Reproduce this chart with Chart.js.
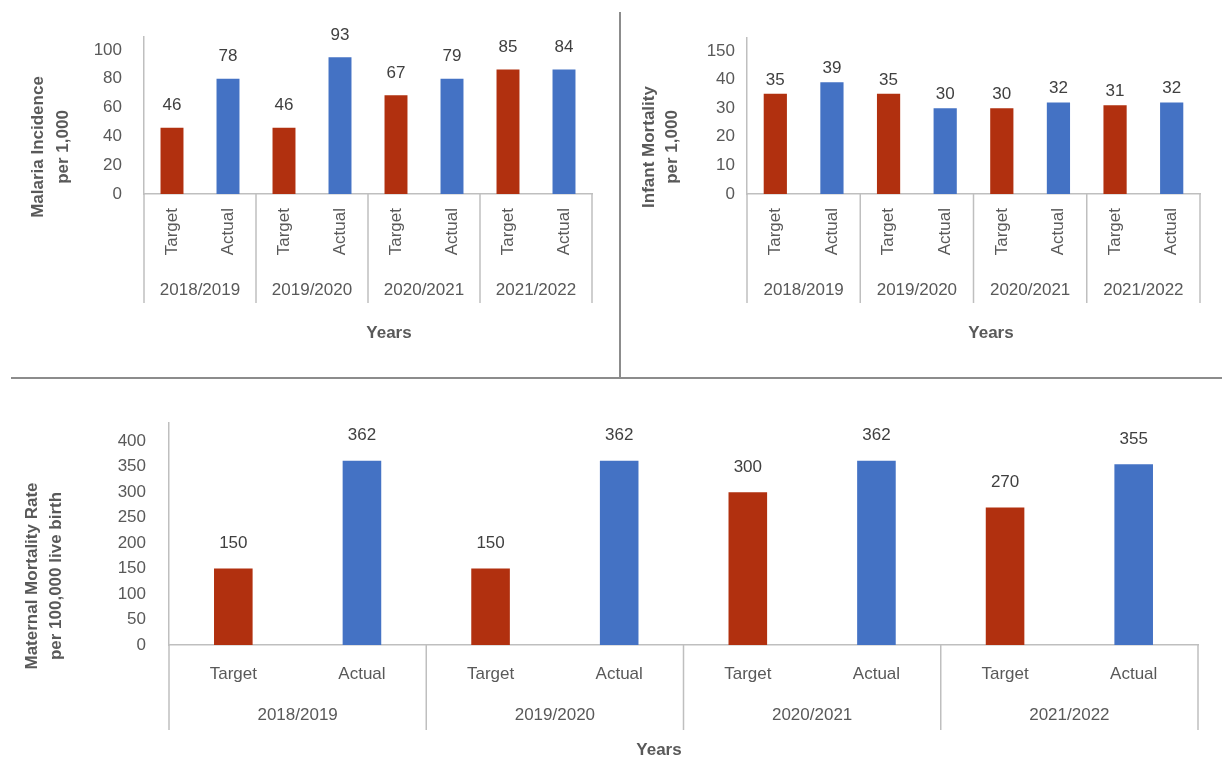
<!DOCTYPE html>
<html><head><meta charset="utf-8">
<script src="https://cdn.jsdelivr.net/npm/chart.js@4.4.1/dist/chart.umd.min.js"></script>
<style>
html,body{margin:0;padding:0;background:#fff;width:1222px;height:761px;overflow:hidden;}
.box{position:absolute;}
.hline{position:absolute;left:11px;top:377px;width:1211px;height:2px;background:#8c8c8c;}
.vline{position:absolute;left:619px;top:12px;width:2px;height:366px;background:#8c8c8c;}
</style></head><body>
<div class="box" style="left:0;top:0;width:620px;height:378px"><canvas id="c1" width="620" height="378"></canvas></div>
<div class="box" style="left:620px;top:0;width:602px;height:378px"><canvas id="c2" width="602" height="378"></canvas></div>
<div class="box" style="left:0;top:380px;width:1222px;height:381px"><canvas id="c3" width="1222" height="381"></canvas></div>
<div class="hline"></div>
<div class="vline"></div>
<script>
// ---- data ----
const years = ["2018/2019", "2019/2020", "2020/2021", "2021/2022"];
const barKinds = ["Target", "Actual"];

const malariaTarget = [46, 46, 68.5, 86.5];
const malariaActual = [80, 95, 80, 86.5];
const malariaTargetText = ["46", "46", "67", "85"];
const malariaActualText = ["78", "93", "79", "84"];

const infantTarget = [35, 35, 30, 31];
const infantActual = [39, 30, 32, 32];
const infantTickLabels = ["0", "10", "20", "30", "40", "150"];

const maternalTarget = [150, 150, 300, 270];
const maternalActual = [362, 362, 362, 355];

// ---- styles ----
const RED = "#B1300F", BLUE = "#4472C4";
const TXT = "#595959", AXIS = "#BFBFBF";

// pick a condensed face if one is installed
function hasFont(name) {
  const c = document.createElement('canvas').getContext('2d');
  const s = "2018/2019 Target Actual";
  c.font = "20px monospace"; const a = c.measureText(s).width;
  c.font = "20px '" + name + "', monospace"; const b = c.measureText(s).width;
  return Math.abs(a - b) > 0.5;
}
let FONT, FS;
if (hasFont("Liberation Sans Narrow")) { FONT = "'Liberation Sans Narrow', 'Arial Narrow', sans-serif"; FS = 20; }
else { FONT = "'Liberation Sans', Arial, sans-serif"; FS = 17; }

function categories() {
  const c = [];
  years.forEach(() => barKinds.forEach(k => c.push(k)));
  return c;
}
function spread(vals, slot) {
  const out = [];
  vals.forEach(v => { for (let k = 0; k < barKinds.length; k++) out.push(k === slot ? v : null); });
  return out;
}

const valuePlugin = {
  id: 'vals',
  afterDatasetsDraw(chart, args, o) {
    const ctx = chart.ctx;
    ctx.save();
    ctx.font = FS + "px " + FONT;
    ctx.fillStyle = "#404040";
    ctx.textAlign = "center";
    ctx.textBaseline = "middle";
    chart.data.datasets.forEach((ds, i) => {
      const meta = chart.getDatasetMeta(i);
      meta.data.forEach((el, j) => {
        if (ds.data[j] == null) return;
        ctx.fillText(ds.valueText[j], el.x, el.y - o.offset);
      });
    });
    ctx.restore();
  }
};

const groupPlugin = {
  id: 'groups',
  afterDraw(chart, args, o) {
    const ctx = chart.ctx, ca = chart.chartArea, xs = chart.scales.x;
    const n = years.length, per = barKinds.length;
    ctx.save();
    ctx.strokeStyle = AXIS;
    ctx.lineWidth = 1.5;
    for (let g = 0; g <= n; g++) {
      let x;
      if (g === 0) x = ca.left;
      else if (g === n) x = ca.right;
      else x = (xs.getPixelForValue(g * per - 1) + xs.getPixelForValue(g * per)) / 2;
      ctx.beginPath();
      ctx.moveTo(x, ca.bottom);
      ctx.lineTo(x, ca.bottom + o.lineLength);
      ctx.stroke();
    }
    ctx.font = FS + "px " + FONT;
    ctx.fillStyle = TXT;
    ctx.textAlign = "center";
    ctx.textBaseline = "middle";
    years.forEach((y, g) => {
      const cx = (xs.getPixelForValue(g * per) + xs.getPixelForValue(g * per + per - 1)) / 2;
      ctx.fillText(y, cx, ca.bottom + o.labelOffset);
    });
    // axis titles
    ctx.font = "bold " + FS + "px " + FONT;
    ctx.fillText(o.xTitle.text, o.xTitle.x, o.xTitle.y);
    o.yTitle.lines.forEach((t, i) => {
      ctx.save();
      ctx.translate(o.yTitle.x + i * o.yTitle.gap, o.yTitle.y);
      ctx.rotate(-Math.PI / 2);
      ctx.fillText(t, 0, 0);
      ctx.restore();
    });
    ctx.restore();
  }
};

function makeChart(id, cfg) {
  return new Chart(document.getElementById(id), {
    type: 'bar',
    data: {
      labels: categories(),
      datasets: [
        { label: "Target", data: spread(cfg.target, 0), valueText: spread(cfg.targetText, 0), backgroundColor: RED,
          barPercentage: cfg.barPct, categoryPercentage: 1 },
        { label: "Actual", data: spread(cfg.actual, 1), valueText: spread(cfg.actualText, 1), backgroundColor: BLUE,
          barPercentage: cfg.barPct, categoryPercentage: 1 }
      ]
    },
    options: {
      responsive: false,
      animation: false,
      skipNull: true,
      layout: { padding: cfg.padding },
      plugins: {
        legend: { display: false },
        tooltip: { enabled: false },
        vals: { offset: cfg.labelOffset },
        groups: cfg.groups
      },
      scales: {
        x: {
          grid: { display: false },
          border: { color: AXIS, width: 1.5 },
          ticks: {
            color: TXT, font: { size: FS, family: FONT }, autoSkip: false,
            minRotation: cfg.rot, maxRotation: cfg.rot, padding: cfg.xPad
          },
          afterFit: s => { s.height = cfg.xHeight; }
        },
        y: {
          min: 0, max: cfg.yMax,
          grid: { display: false },
          border: { color: AXIS, width: 1.5 },
          ticks: {
            color: TXT, font: { size: FS, family: FONT }, stepSize: cfg.step, includeBounds: false,
            padding: cfg.yPad,
            callback: cfg.tickCb || (v => v)
          },
          afterFit: s => { s.width = cfg.yWidth; }
        }
      }
    },
    plugins: [valuePlugin, groupPlugin]
  });
}

makeChart('c1', {
  target: malariaTarget, actual: malariaActual,
  targetText: malariaTargetText, actualText: malariaActualText,
  barPct: 0.41, padding: { top: 37, right: 28, left: 0, bottom: 0 },
  labelOffset: 22, rot: 90, xPad: 6, xHeight: 184, yMax: 109, step: 20, yPad: 14, yWidth: 144,
  groups: { lineLength: 109, labelOffset: 96,
    xTitle: { text: "Years", x: 389, y: 333 },
    yTitle: { lines: ["Malaria Incidence", "per 1,000"], x: 38, y: 147, gap: 25 } }
});

makeChart('c2', {
  target: infantTarget, actual: infantActual,
  targetText: infantTarget.map(String), actualText: infantActual.map(String),
  barPct: 0.41, padding: { top: 38, right: 22, left: 0, bottom: 0 },
  labelOffset: 14, rot: 90, xPad: 6, xHeight: 184, yMax: 54.5, step: 10, yPad: 4, yWidth: 127,
  tickCb: (v, i) => infantTickLabels[i],
  groups: { lineLength: 109, labelOffset: 96,
    xTitle: { text: "Years", x: 371, y: 333 },
    yTitle: { lines: ["Infant Mortality", "per 1,000"], x: 29, y: 147, gap: 23 } }
});

makeChart('c3', {
  target: maternalTarget, actual: maternalActual,
  targetText: maternalTarget.map(String), actualText: maternalActual.map(String),
  barPct: 0.30, padding: { top: 43, right: 24, left: 0, bottom: 0 },
  labelOffset: 25, rot: 0, xPad: 11, xHeight: 116, yMax: 436, step: 50, yPad: 15, yWidth: 169,
  groups: { lineLength: 85, labelOffset: 70,
    xTitle: { text: "Years", x: 659, y: 370 },
    yTitle: { lines: ["Maternal Mortality Rate", "per 100,000 live birth"], x: 32, y: 196, gap: 24 } }
});
</script>
</body></html>
